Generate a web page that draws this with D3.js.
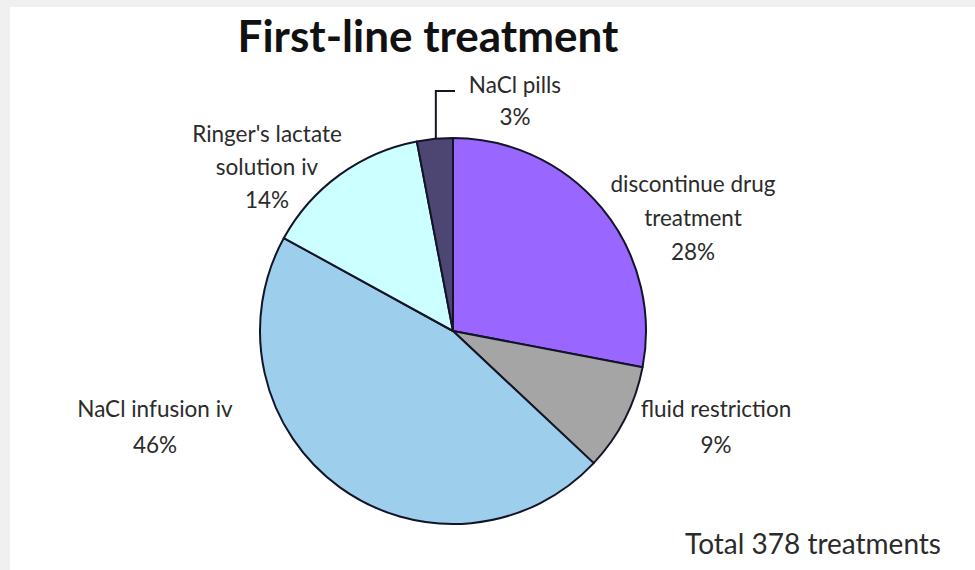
<!DOCTYPE html>
<html>
<head>
<meta charset="utf-8">
<script src="https://cdn.jsdelivr.net/npm/d3@7"></script>
<style>
  html, body { margin: 0; padding: 0; background: #f0f0f0; }
  svg { display: block; }
  text { font-family: Lato, "Open Sans", sans-serif; fill: #2b2b2b; }
</style>
</head>
<body>
<svg id="chart" width="975" height="570"></svg>
<script>
// Treatment categories, clockwise from 12 o'clock
const categories = [
  "discontinue drug treatment",
  "fluid restriction",
  "NaCl infusion iv",
  "Ringer's lactate solution iv",
  "NaCl pills"
];
// Share of first-line treatments (%)
const shares = [28, 9, 46, 14, 3];
const sliceColors = ["#9966ff", "#a5a5a5", "#9dcfec", "#ccffff", "#4d4673"];
// Label lines per slice
const labelLines = [
  ["discontinue drug", "treatment"],
  ["fluid restriction"],
  ["NaCl infusion iv"],
  ["Ringer's lactate", "solution iv"],
  ["NaCl pills"]
];
const title = "First-line treatment";
const totalNote = "Total 378 treatments";

const W = 975, H = 570;
const cx = 453, cy = 331, R = 193;

const svg = d3.select("#chart");

// white plot panel
svg.append("rect")
  .attr("x", 10).attr("y", 7)
  .attr("width", W - 10).attr("height", H - 7)
  .attr("fill", "#ffffff");

svg.append("text")
  .attr("x", 428).attr("y", 52)
  .attr("text-anchor", "middle")
  .style("font-size", "44px")
  .style("font-weight", "bold")
  .style("fill", "#111")
  .text(title);

const data = categories.map((c, i) => ({ name: c, value: shares[i], color: sliceColors[i], lines: labelLines[i] }));

const pie = d3.pie().value(d => d.value).sort(null).startAngle(0).endAngle(2 * Math.PI);
const arc = d3.arc().innerRadius(0).outerRadius(R);
const arcs = pie(data);

const g = svg.append("g").attr("transform", `translate(${cx},${cy})`);

g.selectAll("path.slice")
  .data(arcs)
  .join("path")
  .attr("class", "slice")
  .attr("d", arc)
  .attr("fill", d => d.data.color)
  .attr("stroke", "#141428")
  .attr("stroke-width", 2)
  .attr("stroke-linejoin", "round");

// label placement: centre x, first baseline y, line spacing
const labelPos = [
  [693, 192, 34],
  [716, 417, 36],
  [155, 417, 36],
  [267, 142, 33],
  [515, 93, 32]
];

arcs.forEach((a, i) => {
  const [lx, ly, gap] = labelPos[i];
  const lines = a.data.lines.concat([`${a.data.value}%`]);
  const t = svg.append("text")
    .attr("text-anchor", "middle")
    .style("font-size", "22.5px");
  lines.forEach((ln, k) => {
    t.append("tspan").attr("x", lx).attr("y", ly + k * gap).text(ln);
  });
});

// leader line for the small NaCl pills slice
const pills = arcs[4];
const midA = (pills.startAngle + pills.endAngle) / 2;
const px = cx + R * Math.sin(midA) + 1;
const py = cy - R * Math.cos(midA);
svg.append("path")
  .attr("d", `M${px},${py} L${px},91 L455,91`)
  .attr("fill", "none")
  .attr("stroke", "#141428")
  .attr("stroke-width", 2);

svg.append("text")
  .attr("x", 941).attr("y", 554)
  .attr("text-anchor", "end")
  .style("font-size", "28px")
  .text(totalNote);
</script>
</body>
</html>
